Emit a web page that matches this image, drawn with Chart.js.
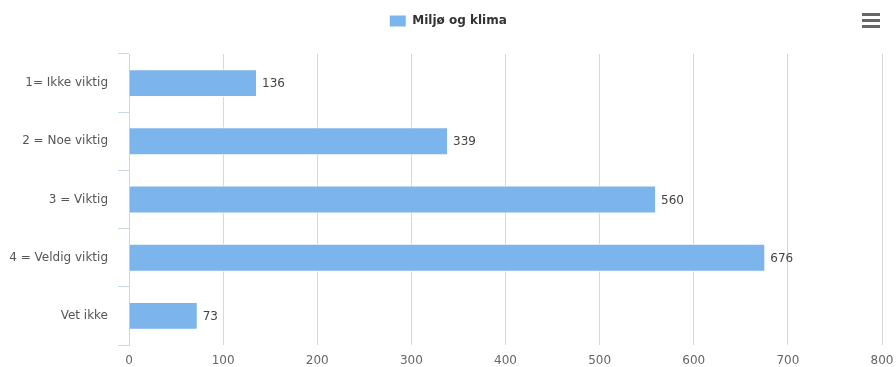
<!DOCTYPE html>
<html>
<head>
<meta charset="utf-8">
<script src="https://cdn.jsdelivr.net/npm/chart.js@4"></script>
<style>
  html, body { margin: 0; padding: 0; background: #fff; }
  #wrap { width: 896px; height: 367px; }
</style>
</head>
<body>
<div id="wrap"><canvas id="chart" width="896" height="367"></canvas></div>
<script>
// ---- data ----
const categories = ["1= Ikke viktig", "2 = Noe viktig", "3 = Viktig", "4 = Veldig viktig", "Vet ikke"];
const seriesName = "Miljø og klima";
const values = [136, 339, 560, 676, 73];
const xTicks = [0, 100, 200, 300, 400, 500, 600, 700, 800];

const FONT = "'DejaVu Sans', Verdana, sans-serif";

// legend spacing tweak: extra gap below, centred on the full canvas
const legendSpacer = {
  id: "legendSpacer",
  beforeInit(chart) {
    const fit = chart.legend.fit;
    chart.legend.fit = function () {
      fit.bind(chart.legend)();
      this.height += 17;
    };
  },
  afterLayout(chart) {
    chart.legend.left += 7;
    chart.legend.right += 7;
  }
};

// value labels at bar ends
const valueLabels = {
  id: "valueLabels",
  afterDatasetsDraw(chart) {
    const ctx = chart.ctx;
    const meta = chart.getDatasetMeta(0);
    ctx.save();
    ctx.font = "12px " + FONT;
    ctx.fillStyle = "#444";
    ctx.textAlign = "left";
    ctx.textBaseline = "middle";
    meta.data.forEach((bar, i) => {
      ctx.fillText(String(values[i]), bar.x + 5, bar.y + 1);
    });
    ctx.restore();
  }
};

// export menu icon
const menuIcon = {
  id: "menuIcon",
  afterDraw(chart) {
    const ctx = chart.ctx;
    ctx.save();
    ctx.strokeStyle = "#666";
    ctx.lineWidth = 3;
    [14.5, 20.5, 26.5].forEach(y => {
      ctx.beginPath();
      ctx.moveTo(862, y);
      ctx.lineTo(880, y);
      ctx.stroke();
    });
    ctx.restore();
  }
};

new Chart(document.getElementById("chart"), {
  type: "bar",
  data: {
    labels: categories,
    datasets: [{
      label: seriesName,
      data: values,
      backgroundColor: "#7cb5ec",
      borderColor: "#ffffff",
      borderWidth: 1,
      barPercentage: 0.48,
      categoryPercentage: 1.0
    }]
  },
  options: {
    indexAxis: "y",
    responsive: false,
    animation: false,
    layout: { padding: { top: 5, right: 14, left: 0, bottom: 0 } },
    plugins: {
      legend: {
        position: "top",
        labels: {
          boxWidth: 17,
          boxHeight: 12,
          padding: 10,
          color: "#333",
          font: { family: FONT, size: 12, weight: "bold" }
        }
      },
      tooltip: { enabled: false }
    },
    scales: {
      x: {
        min: 0,
        max: 800,
        afterBuildTicks: s => { s.ticks = xTicks.map(v => ({ value: v })); },
        afterFit: s => { s.height = 22; s.paddingRight = 0; s.paddingLeft = 0; },
        grid: { color: "#d8d8d8", drawTicks: false },
        border: { display: false },
        ticks: {
          color: "#666",
          padding: 9,
          font: { family: FONT, size: 12 }
        }
      },
      y: {
        afterFit: s => { s.width = 129; },
        grid: {
          drawOnChartArea: false,
          color: "#ccd6eb",
          tickLength: 11
        },
        border: { color: "#ccd6eb" },
        ticks: {
          color: "#555",
          padding: 10,
          font: { family: FONT, size: 12 }
        }
      }
    }
  },
  plugins: [legendSpacer, valueLabels, menuIcon]
});
</script>
</body>
</html>
